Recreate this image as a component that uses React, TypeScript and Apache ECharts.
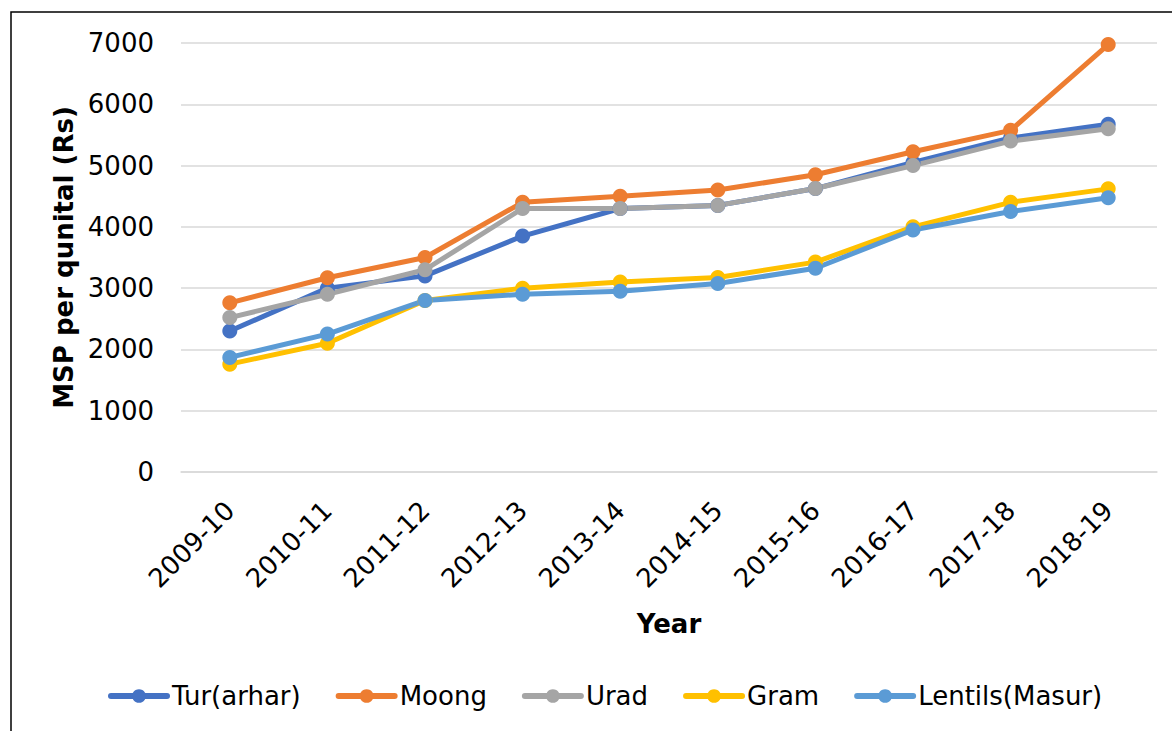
import React, { useEffect, useRef } from "react";
import * as echarts from "echarts";

const categories = ["2009-10", "2010-11", "2011-12", "2012-13", "2013-14", "2014-15", "2015-16", "2016-17", "2017-18", "2018-19"];
const tur = [2300, 3000, 3200, 3850, 4300, 4350, 4625, 5050, 5450, 5675];
const moong = [2760, 3170, 3500, 4400, 4500, 4600, 4850, 5225, 5575, 6975];
const urad = [2520, 2900, 3300, 4300, 4300, 4350, 4625, 5000, 5400, 5600];
const gram = [1760, 2100, 2800, 3000, 3100, 3175, 3425, 4000, 4400, 4620];
const masur = [1870, 2250, 2800, 2900, 2950, 3075, 3325, 3950, 4250, 4475];
const seriesNames = ["Tur(arhar)", "Moong", "Urad", "Gram", "Lentils(Masur)"];
const seriesColors = ["#4472C4", "#ED7D31", "#A5A5A5", "#FFC000", "#5B9BD5"];

const FONT = "'DejaVu Sans', Verdana, sans-serif";

export default function App() {
  const ref = useRef<HTMLDivElement>(null);
  useEffect(() => {
    if (!ref.current) return;
    const chart = echarts.init(ref.current, null, { renderer: "svg" });
    const data = [tur, moong, urad, gram, masur];
    chart.setOption({
      animation: false,
      backgroundColor: "#ffffff",
      textStyle: { fontFamily: FONT },
      graphic: [
        {
          type: "rect",
          shape: { x: 11, y: 12, width: 1300, height: 900 },
          style: { fill: "none", stroke: "#000000", lineWidth: 1.5 },
          silent: true,
        },
      ],
      grid: { left: 181, right: 15, top: 43, bottom: 259 },
      legend: {
        left: 103,
        top: 678,
        itemWidth: 56,
        itemHeight: 17,
        itemGap: 35,
        lineStyle: { width: 6, cap: "round" },
        textStyle: { fontSize: 26, color: "#000", fontFamily: FONT },
        data: seriesNames,
      },
      xAxis: {
        type: "category",
        data: categories,
        boundaryGap: true,
        name: "Year",
        nameLocation: "middle",
        nameGap: 139,
        nameTextStyle: { fontSize: 26, fontWeight: "bold", color: "#000", fontFamily: FONT },
        axisLine: { lineStyle: { color: "#d9d9d9", width: 1.5 } },
        axisTick: { show: false },
        axisLabel: { rotate: 45, fontSize: 26, color: "#000", margin: 34, fontFamily: FONT },
      },
      yAxis: {
        type: "value",
        min: 0,
        max: 7000,
        interval: 1000,
        name: "MSP per qunital (Rs)",
        nameLocation: "middle",
        nameGap: 102,
        nameTextStyle: { fontSize: 26, fontWeight: "bold", color: "#000", fontFamily: FONT },
        axisLine: { show: false },
        axisTick: { show: false },
        axisLabel: {
          fontSize: 26,
          color: "#000",
          margin: 27,
          fontFamily: FONT,
          formatter: (v: number) => String(v),
        },
        splitLine: { lineStyle: { color: "#d9d9d9", width: 1.5 } },
      },
      series: seriesNames.map((name, i) => ({
        name,
        type: "line",
        data: data[i],
        symbol: "circle",
        symbolSize: 15,
        lineStyle: { width: 5, color: seriesColors[i] },
        itemStyle: { color: seriesColors[i] },
      })),
    });
    return () => chart.dispose();
  }, []);
  return <div ref={ref} style={{ position: "fixed", left: 0, top: 0, width: 1172, height: 731 }} />;
}
